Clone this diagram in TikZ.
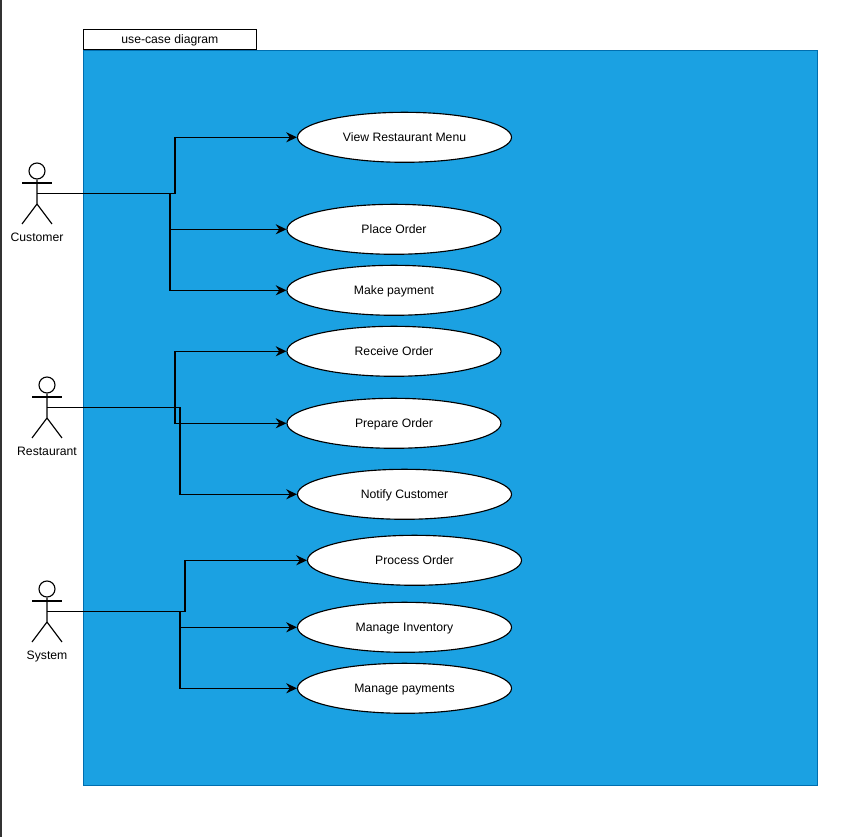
\documentclass[tikz,border=0pt]{standalone}
\usepackage{fontspec}
\setmainfont{Liberation Sans}
\usepackage{xcolor}
\usetikzlibrary{arrows.meta,shapes.geometric}
\definecolor{framefill}{HTML}{1BA1E2}
\definecolor{frameline}{HTML}{006EAF}
\definecolor{stripgray}{HTML}{333333}

\begin{document}
\begin{tikzpicture}[
  x=0.75pt, y=-0.75pt,
  >={Stealth[length=8pt, width=7.5pt]},
  line width=0.85pt,
  uctext/.style={font=\fontsize{9.15}{11}\selectfont, text height=8pt, text depth=2pt},
  usecase/.style={ellipse, draw=black, fill=white, minimum width=160.5pt, minimum height=37.5pt, inner sep=0pt, uctext},
  actorhead/.style={circle, draw=black, fill=white, minimum size=12pt, inner sep=0pt},
  actorname/.style={uctext, inner sep=0pt},
  ucedge/.style={->, draw=black, line width=0.95pt}
]
  \useasboundingbox (0,0) rectangle (864,837);
  \fill[stripgray] (0,0) rectangle (2,837);

  \node[draw=frameline, fill=framefill, line width=0.75pt, minimum width=550.5pt, minimum height=551.25pt, inner sep=0pt, anchor=north west] (frame) at (82.7,50) {};
  \node[draw=black, fill=white, line width=0.75pt, minimum width=130pt, minimum height=15pt, inner sep=0pt, anchor=south west, uctext] (title) at (82.7,50) {use-case diagram};

  \node[usecase] (view) at (404.5,137.3) {View Restaurant Menu};
  \node[usecase] (place) at (394,229.3) {Place Order};
  \node[usecase] (pay) at (394,290.3) {Make payment};
  \node[usecase] (receive) at (394,351.3) {Receive Order};
  \node[usecase] (prepare) at (394,423.3) {Prepare Order};
  \node[usecase] (notify) at (404.5,494.3) {Notify Customer};
  \node[usecase] (process) at (414.5,560.3) {Process Order};
  \node[usecase] (inventory) at (404.5,627.3) {Manage Inventory};
  \node[usecase] (payments) at (404.5,688.3) {Manage payments};

  % actors
  \foreach \nm/\xa/\ya/\lbl in {customer/37/171/Customer, restaurant/47/385/Restaurant, system/47/589/System} {
    \node[actorhead] (\nm head) at (\xa,\ya) {};
    \draw (\nm head.south) -- (\xa,\ya+33) -- (\xa-15,\ya+53);
    \draw (\xa,\ya+33) -- (\xa+15,\ya+53);
    \draw (\xa-15,\ya+12) -- (\xa+15,\ya+12);
    \coordinate (\nm) at (\xa,\ya+22.6);
    \node[actorname] (\nm name) at (\xa,\ya+66.3) {\lbl};
  }

  \draw[ucedge] (customer) -- ++(138,0) |- (view.west);
  \draw[ucedge] (customer) -- ++(133,0) |- (place.west);
  \draw[ucedge] (customer) -- ++(133,0) |- (pay.west);

  \draw[ucedge] (restaurant) -- ++(128,0) |- (receive.west);
  \draw[ucedge] (restaurant) -- ++(128,0) |- (prepare.west);
  \draw[ucedge] (restaurant) -- ++(133,0) |- (notify.west);

  \draw[ucedge] (system) -- ++(138,0) |- (process.west);
  \draw[ucedge] (system) -- ++(133,0) |- (inventory.west);
  \draw[ucedge] (system) -- ++(133,0) |- (payments.west);
\end{tikzpicture}
\end{document}
